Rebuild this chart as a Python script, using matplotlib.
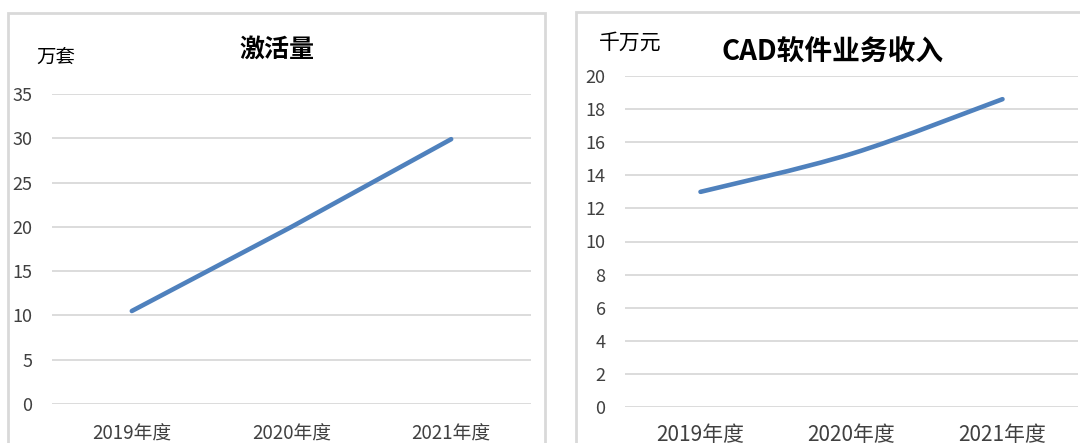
import matplotlib
matplotlib.use("Agg")
import matplotlib.pyplot as plt
from matplotlib.path import Path
from matplotlib.patches import PathPatch, Rectangle
import numpy as np

plt.rcParams['font.family'] = ['Noto Sans CJK SC', 'DejaVu Sans']

# data
years = ['2019年度', '2020年度', '2021年度']
activations = [10.5, 20.0, 29.9]      # 万套
cad_revenue = [13.0, 15.3, 18.6]      # 千万元

W, H = 1080, 443
LINE = '#4f81bd'
GRID = '#d9d9d9'
TXT = '#404040'

fig = plt.figure(figsize=(W / 100, H / 100), dpi=100)


def px(x0, y_top, x1, y_bot):
    # pixel box -> figure fraction [left, bottom, width, height]
    return [x0 / W, 1 - y_bot / H, (x1 - x0) / W, (y_bot - y_top) / H]


# panel frames (the screenshot cuts them at the bottom / right)
fig.patches.append(Rectangle((8 / W, -0.1), (545 - 8) / W, 1.1 - 13 / H,
                             transform=fig.transFigure, fill=False,
                             edgecolor=GRID, lw=2))
fig.patches.append(Rectangle((576 / W, -0.1), 0.5, 1.1 - 12 / H,
                             transform=fig.transFigure, fill=False,
                             edgecolor=GRID, lw=2))


def smooth_path(xs, ys):
    # Excel style smoothed line: cubic bezier segments
    pts = np.column_stack([xs, ys]).astype(float)
    n = len(pts)
    verts = [pts[0]]
    codes = [Path.MOVETO]
    for i in range(n - 1):
        p_prev = pts[i - 1] if i > 0 else pts[i]
        p_next = pts[i + 2] if i + 2 < n else pts[i + 1]
        c1 = pts[i] + (pts[i + 1] - p_prev) / 6
        c2 = pts[i + 1] - (p_next - pts[i]) / 6
        verts += [c1, c2, pts[i + 1]]
        codes += [Path.CURVE4] * 3
    return Path(verts, codes)


def setup(ax, ymax, step, xfs, xpad):
    ax.set_xlim(-0.5, len(years) - 0.5)
    ax.set_ylim(0, ymax)
    ax.set_yticks(np.arange(0, ymax + 0.1, step))
    ax.set_xticks(range(len(years)))
    ax.set_xticklabels(years)
    ax.grid(axis='y', color=GRID, lw=1.3)
    ax.set_axisbelow(True)
    for s in ax.spines.values():
        s.set_visible(False)
    ax.tick_params(axis='y', length=0, pad=14, labelsize=13, labelcolor=TXT)
    ax.tick_params(axis='x', length=0, pad=xpad, labelsize=xfs, labelcolor=TXT)
    ax.set_facecolor('none')


# left: 激活量
ax1 = fig.add_axes(px(52, 94, 531, 404))
setup(ax1, 35, 5, 13.5, 14)
ax1.plot(range(len(years)), activations, color=LINE, lw=3.3,
         solid_capstyle='round')
fig.text(277 / W, 1 - 50 / H, '激活量', ha='center', va='center',
         fontsize=18, fontweight='bold', color='black')
fig.text(36 / W, 1 - 57 / H, '万套', ha='left', va='center',
         fontsize=14, color='black')

# right: CAD软件业务收入
ax2 = fig.add_axes(px(625, 76, 1078, 407))
setup(ax2, 20, 2, 15, 12)
ax2.add_patch(PathPatch(smooth_path(range(len(years)), cad_revenue),
                        fill=False, edgecolor=LINE, lw=3.3,
                        capstyle='round'))
fig.text(833 / W, 1 - 52 / H, 'CAD软件业务收入', ha='center', va='center',
         fontsize=20, fontweight='bold', color='black')
fig.text(599 / W, 1 - 43 / H, '千万元', ha='left', va='center',
         fontsize=15, color='black')

fig.savefig('out.png', dpi=100)
